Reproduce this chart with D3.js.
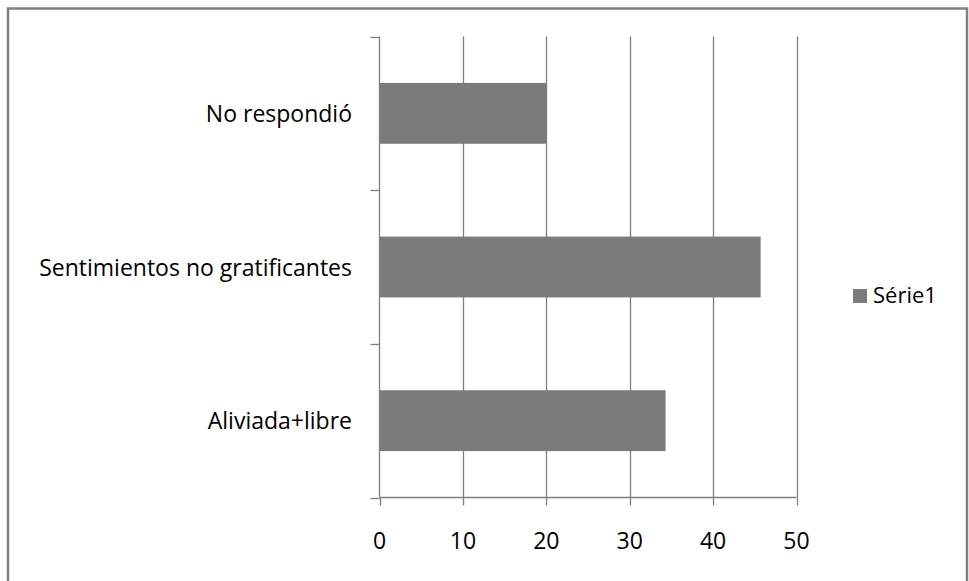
<!DOCTYPE html>
<html lang="es">
<head>
    <meta charset="UTF-8">
    <title>Série1</title>
    <script src="https://d3js.org/d3.v7.min.js"></script>
    <style>
        body { margin: 0; background: #fff; }
        .lbl { font-family: "Open Sans", sans-serif; fill: #000; }
    </style>
</head>
<body>
    <svg id="chart" width="969" height="581"></svg>

    <script>
    // data (top to bottom)
    const categories = ["No respondió", "Sentimientos no gratificantes", "Aliviada+libre"];
    const values = [20, 45.7, 34.3];
    const xTicks = [0, 10, 20, 30, 40, 50];
    const seriesName = "Série1";

    const svg = d3.select("#chart");
    const grey = "#7f7f7f";
    const barColor = "#7b7b7b";

    // outer frame
    svg.append("rect")
        .attr("x", 8).attr("y", 8.5)
        .attr("width", 959).attr("height", 590)
        .attr("fill", "none")
        .attr("stroke", "#808080")
        .attr("stroke-width", 2.5);

    const plot = { left: 379.5, right: 796.5, top: 36.5, bottom: 497.5 };

    const x = d3.scaleLinear().domain([0, 50]).range([plot.left, plot.right]);
    const y = d3.scaleBand().domain(categories).range([plot.top, plot.bottom]).paddingInner(0.604).paddingOuter(0.302);
    const yEdges = d3.scaleLinear().domain([0, categories.length]).range([plot.top, plot.bottom]);

    // vertical gridlines
    svg.append("g")
        .selectAll("line")
        .data(xTicks.slice(1))
        .enter()
        .append("line")
        .attr("x1", d => Math.round(x(d)) + 0.5)
        .attr("x2", d => Math.round(x(d)) + 0.5)
        .attr("y1", plot.top)
        .attr("y2", plot.bottom)
        .attr("stroke", grey)
        .attr("stroke-width", 1.3);

    // bars
    svg.append("g")
        .selectAll("rect")
        .data(values)
        .enter()
        .append("rect")
        .attr("x", x(0))
        .attr("y", (d, i) => y(categories[i]))
        .attr("width", d => x(d) - x(0))
        .attr("height", y.bandwidth())
        .attr("fill", barColor);

    // y axis line + ticks at band edges
    svg.append("line")
        .attr("x1", plot.left).attr("x2", plot.left)
        .attr("y1", plot.top).attr("y2", plot.bottom)
        .attr("stroke", grey).attr("stroke-width", 1.3);

    svg.append("g")
        .selectAll("line")
        .data(d3.range(categories.length + 1))
        .enter()
        .append("line")
        .attr("x1", plot.left - 9).attr("x2", plot.left)
        .attr("y1", d => Math.round(yEdges(d)) + 0.5)
        .attr("y2", d => Math.round(yEdges(d)) + 0.5)
        .attr("stroke", grey).attr("stroke-width", 1.3);

    // x axis line + ticks
    svg.append("line")
        .attr("x1", plot.left).attr("x2", plot.right)
        .attr("y1", plot.bottom).attr("y2", plot.bottom)
        .attr("stroke", grey).attr("stroke-width", 1.3);

    svg.append("g")
        .selectAll("line")
        .data(xTicks)
        .enter()
        .append("line")
        .attr("x1", d => Math.round(x(d)) + 0.5)
        .attr("x2", d => Math.round(x(d)) + 0.5)
        .attr("y1", plot.bottom).attr("y2", plot.bottom + 8)
        .attr("stroke", grey).attr("stroke-width", 1.3);

    // x tick labels
    svg.append("g")
        .selectAll("text")
        .data(xTicks)
        .enter()
        .append("text")
        .attr("class", "lbl")
        .attr("x", d => x(d))
        .attr("y", 549)
        .attr("text-anchor", "middle")
        .attr("font-size", "23px")
        .text(d => d);

    // category labels
    svg.append("g")
        .selectAll("text")
        .data(categories)
        .enter()
        .append("text")
        .attr("class", "lbl")
        .attr("x", 352)
        .attr("y", d => y(d) + y.bandwidth() / 2 + 8.5)
        .attr("text-anchor", "end")
        .attr("font-size", "23px")
        .text(d => d);

    // legend
    const legend = svg.append("g").attr("transform", "translate(853,289)");
    legend.append("rect")
        .attr("width", 14).attr("height", 14)
        .attr("fill", barColor);
    legend.append("text")
        .attr("class", "lbl")
        .attr("x", 20).attr("y", 13.5)
        .attr("font-size", "22px")
        .text(seriesName);
    </script>
</body>
</html>
